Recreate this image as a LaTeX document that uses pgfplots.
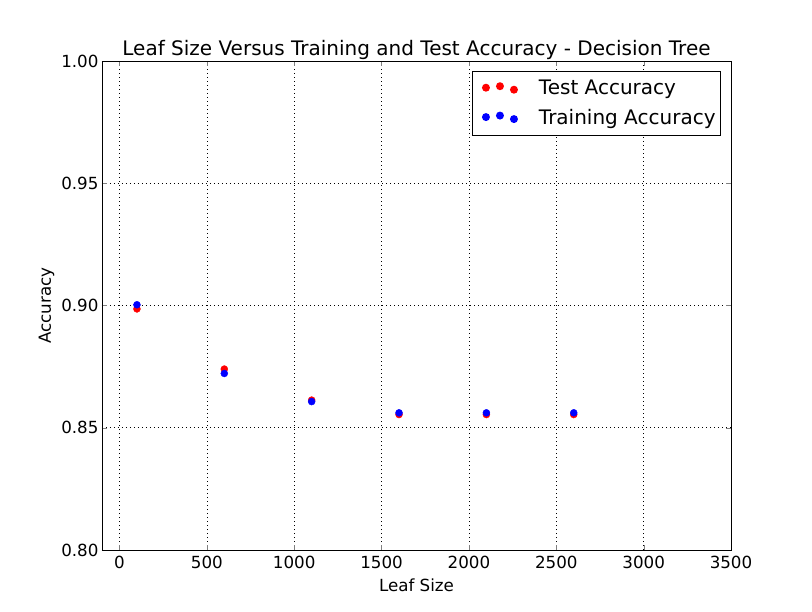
\documentclass[border=0pt]{standalone}
\usepackage{fontspec}
\setmainfont{DejaVu Sans}
\usepackage{pgfplots}
\pgfplotsset{compat=1.18}

\pgfplotstableread{
x y
100 0.8986
600 0.8740
1100 0.8613
1600 0.8554
2100 0.8554
2600 0.8554
}\testacc
\pgfplotstableread{
x y
100 0.9003
600 0.8722
1100 0.8607
1600 0.8561
2100 0.8561
2600 0.8561
}\trainacc

\begin{document}
\begin{tikzpicture}
\begin{axis}[
    scale only axis,
    width=629bp, height=489bp,
    xmin=-100, xmax=3500,
    ymin=0.8, ymax=1.0,
    xtick={0,500,...,3500},
    ytick={0.80,0.85,0.90,0.95,1.00},
    /pgf/number format/assume math mode=true,
    x tick label style={/pgf/number format/1000 sep={}, yshift=-3bp},
    y tick label style={/pgf/number format/.cd, fixed, fixed zerofill, precision=2},
    tick label style={font=\fontsize{16.7bp}{20bp}\selectfont},
    tick align=inside,
    major tick length=5bp,
    axis line style={black, line width=0.8bp},
    grid=major,
    grid style={black, dash pattern=on 1bp off 3bp, line width=0.6bp},
    title={Leaf Size Versus Training and Test Accuracy - Decision Tree},
    title style={font=\fontsize{20bp}{24bp}\selectfont, yshift=-8bp},
    xlabel={Leaf Size},
    ylabel={Accuracy},
    xlabel style={yshift=-3bp},
    label style={font=\fontsize{16.7bp}{20bp}\selectfont},
    legend style={at={(0.984,0.980)}, anchor=north east, draw=black, line width=0.8bp,
        font=\fontsize{20bp}{24bp}\selectfont, inner xsep=3bp, inner ysep=7bp,
        row sep=9bp},
    legend cell align=left,
]
\addplot[only marks, mark=*, mark size=3.5bp, color=red,
    legend image code/.code={
        \fill[red, draw=none] (-4bp,0.5bp) circle (4bp);
        \fill[red, draw=none] (10bp,2bp) circle (4bp);
        \fill[red, draw=none] (24bp,-1.5bp) circle (4bp);
        \path[draw=none] (-15bp,0) -- (47bp,0);
    }] table[x=x,y=y] {\testacc};
\addlegendentry{Test Accuracy}
\addplot[only marks, mark=*, mark size=3.5bp, color=blue,
    legend image code/.code={
        \fill[blue, draw=none] (-4bp,0.5bp) circle (4bp);
        \fill[blue, draw=none] (10bp,2bp) circle (4bp);
        \fill[blue, draw=none] (24bp,-1.5bp) circle (4bp);
        \path[draw=none] (-15bp,0) -- (47bp,0);
    }] table[x=x,y=y] {\trainacc};
\addlegendentry{Training Accuracy}
\end{axis}
\path[use as bounding box] (current axis.south west) ++(-102bp,-62bp) rectangle ++(812bp,612bp);
\end{tikzpicture}
\end{document}
